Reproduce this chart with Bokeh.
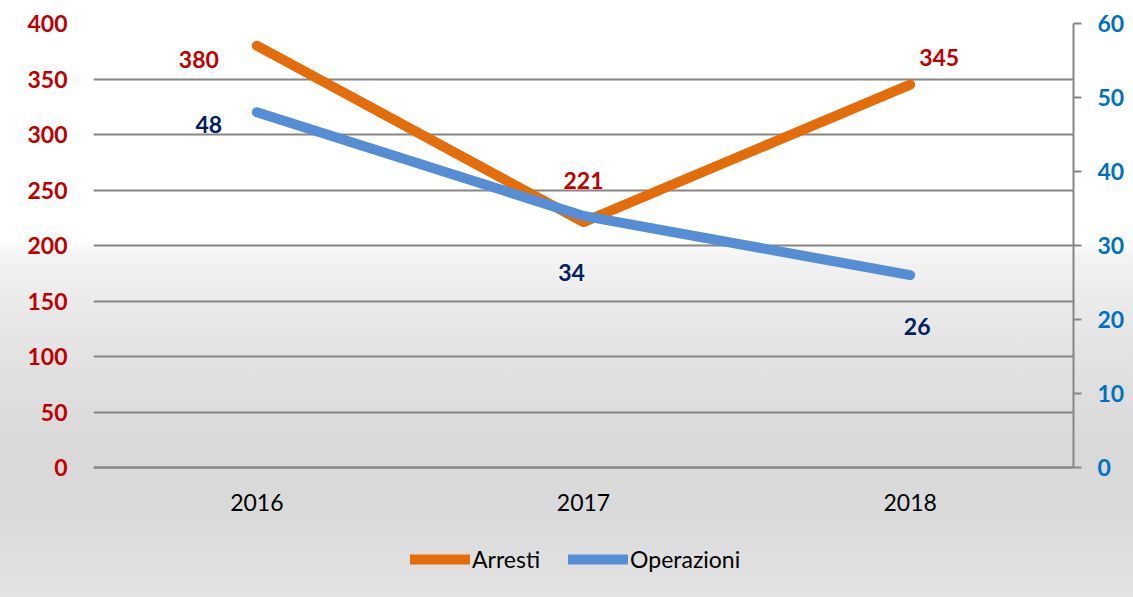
from bokeh.plotting import figure
from bokeh.models import (ColumnDataSource, FactorRange, Range1d, LinearAxis,
                          FixedTicker, LabelSet, Legend, LegendItem)
from bokeh.core.properties import value
from bokeh.embed import file_html
from bokeh.resources import INLINE

years = ["2016", "2017", "2018"]
arresti = [380, 221, 345]
operazioni = [48, 34, 26]
left_ticks = [0, 50, 100, 150, 200, 250, 300, 350, 400]
right_ticks = [0, 10, 20, 30, 40, 50, 60]
LEFT_MAX = 400
RIGHT_MAX = 60

# label offsets (screen px) for data labels
arr_dx = [-58, 0, 29]
arr_dy = [-14, 42, 27]
ops_dx = [-48, -12, 7]
ops_dy = [-12, -57, -51]

FONT = "Lato"
GRID = "#868686"
ORANGE = "#E46C0A"
BLUE = "#558ED5"

W, H = 1133, 597
TOP, ZERO_Y = 23, 467          # pixel rows of the top value and of zero
LEFT, RIGHT = 93, 1073
below = (H - ZERO_Y) / (ZERO_Y - TOP)   # fraction of range below zero

p = figure(width=W, height=H, x_range=FactorRange(*years, range_padding=0),
           y_range=Range1d(-LEFT_MAX * below, LEFT_MAX),
           output_backend="svg", toolbar_location=None,
           min_border_left=LEFT, min_border_right=W - RIGHT, min_border_top=TOP,
           min_border_bottom=0)
p.styles = {"background": "linear-gradient(to bottom, #ffffff 0%, #ffffff 40%, "
                          "#f3f3f3 43%, #ebebeb 50%, #e3e3e3 59%, #d9d9d9 74%, "
                          "#dadada 86%, #e3e3e3 100%)"}
p.background_fill_color = None
p.border_fill_color = None
p.outline_line_color = None

p.extra_y_ranges = {"ops": Range1d(-RIGHT_MAX * below, RIGHT_MAX)}

# left axis
ya = p.yaxis[0]
ya.ticker = FixedTicker(ticks=left_ticks)
ya.axis_line_color = None
ya.major_tick_line_color = None
ya.minor_tick_line_color = None
ya.major_label_standoff = 20
ya.major_label_text_font = FONT
ya.major_label_text_font_style = "bold"
ya.major_label_text_font_size = "23px"
ya.major_label_text_color = "#C00000"

# right axis
ra = LinearAxis(y_range_name="ops", ticker=FixedTicker(ticks=right_ticks),
                bounds=(0, RIGHT_MAX))
ra.axis_line_color = GRID
ra.axis_line_width = 2
ra.major_tick_line_color = GRID
ra.major_tick_line_width = 2
ra.major_tick_in = 0
ra.major_tick_out = 8
ra.minor_tick_line_color = None
ra.major_label_standoff = 16
ra.major_label_text_font = FONT
ra.major_label_text_font_style = "bold"
ra.major_label_text_font_size = "23px"
ra.major_label_text_color = "#0070C0"
p.add_layout(ra, "right")

# x axis, drawn at value zero inside the frame
xa = p.xaxis[0]
xa.fixed_location = 0
xa.axis_line_color = GRID
xa.axis_line_width = 2
xa.major_tick_line_color = None
xa.minor_tick_line_color = None
xa.major_label_standoff = 20
xa.major_label_text_font = FONT
xa.major_label_text_font_size = "23px"
xa.major_label_text_color = "#000000"

p.xgrid.grid_line_color = None
p.ygrid.ticker = FixedTicker(ticks=left_ticks)
p.ygrid.grid_line_color = GRID
p.ygrid.grid_line_width = 2

src_a = ColumnDataSource(dict(x=years, y=arresti, t=[str(v) for v in arresti],
                              dx=arr_dx, dy=arr_dy))
src_o = ColumnDataSource(dict(x=years, y=operazioni, t=[str(v) for v in operazioni],
                              dx=ops_dx, dy=ops_dy))

la = p.line("x", "y", source=src_a, line_color=ORANGE, line_width=10,
            line_cap="round", line_join="round")
lo = p.line("x", "y", source=src_o, line_color=BLUE, line_width=10,
            line_cap="round", line_join="round", y_range_name="ops")

lab_a = LabelSet(x="x", y="y", text="t", source=src_a, x_offset="dx", y_offset="dy",
                 text_align="center", text_baseline="middle", text_font=value(FONT),
                 text_font_style="bold", text_font_size="23px", text_color="#C00000")
lab_o = LabelSet(x="x", y="y", text="t", source=src_o, x_offset="dx", y_offset="dy",
                 y_range_name="ops",
                 text_align="center", text_baseline="middle", text_font=value(FONT),
                 text_font_style="bold", text_font_size="23px", text_color="#002060")
p.add_layout(lab_a)
p.add_layout(lab_o)

legend = Legend(items=[LegendItem(label="Arresti", renderers=[la]),
                       LegendItem(label="Operazioni", renderers=[lo])],
                orientation="horizontal", location=(317, 24),
                glyph_width=60, glyph_height=20, label_standoff=2, spacing=28,
                padding=0, margin=0, border_line_color=None,
                background_fill_alpha=0, label_text_font=FONT,
                label_text_font_size="23px", label_text_color="#000000")
p.add_layout(legend)

open("out.html", "w").write(file_html(p, INLINE))
